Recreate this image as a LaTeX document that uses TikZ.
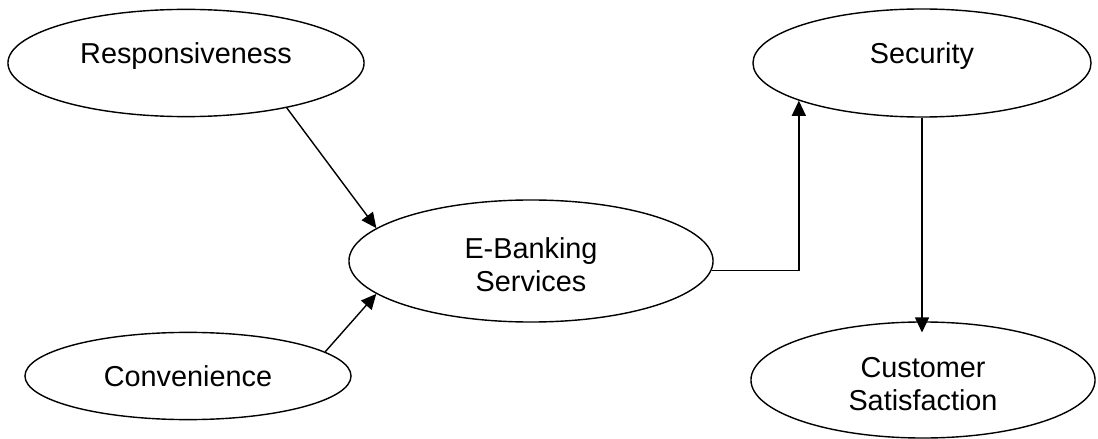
\documentclass[tikz,border=0pt]{standalone}
\usepackage{fontspec}
\setmainfont{Liberation Sans}
\usetikzlibrary{arrows.meta,shapes.geometric}

\begin{document}
\begin{tikzpicture}[x=0.025cm,y=-0.025cm,>={Triangle[length=3.8mm,width=3.5mm]},
  line width=1pt,font=\fontsize{20.5}{23.5}\selectfont,
  oval/.style={draw,ellipse,inner sep=0pt,align=center},
  upper/.style={text height=15pt,text depth=14.5pt},
  lower/.style={text height=43.5pt}]
\useasboundingbox (0,0) rectangle (1098,439);
% constructs
\node[oval,upper,minimum width=8.9cm,minimum height=2.68cm] (resp) at (186,63) {Responsiveness};
\node[oval,minimum width=8.15cm,minimum height=2.18cm] (conv) at (188,376) {Convenience};
\node[oval,lower,minimum width=9.1cm,minimum height=3.05cm] (ebank) at (531,261) {E-Banking\\Services};
\node[oval,upper,minimum width=8.45cm,minimum height=2.7cm] (sec) at (922,63) {Security};
\node[oval,lower,minimum width=8.6cm,minimum height=2.9cm] (cust) at (923,380) {Customer\\Satisfaction};
% paths
\draw[->] (resp.-24) -- (ebank.168);
\draw[->] (conv.10) -- (ebank.192);
\draw[->] (ebank.-3) -| (sec.197);
\draw[->,shorten >=-8pt] (sec.south) -- (sec.south |- cust.north);
\end{tikzpicture}
\end{document}
